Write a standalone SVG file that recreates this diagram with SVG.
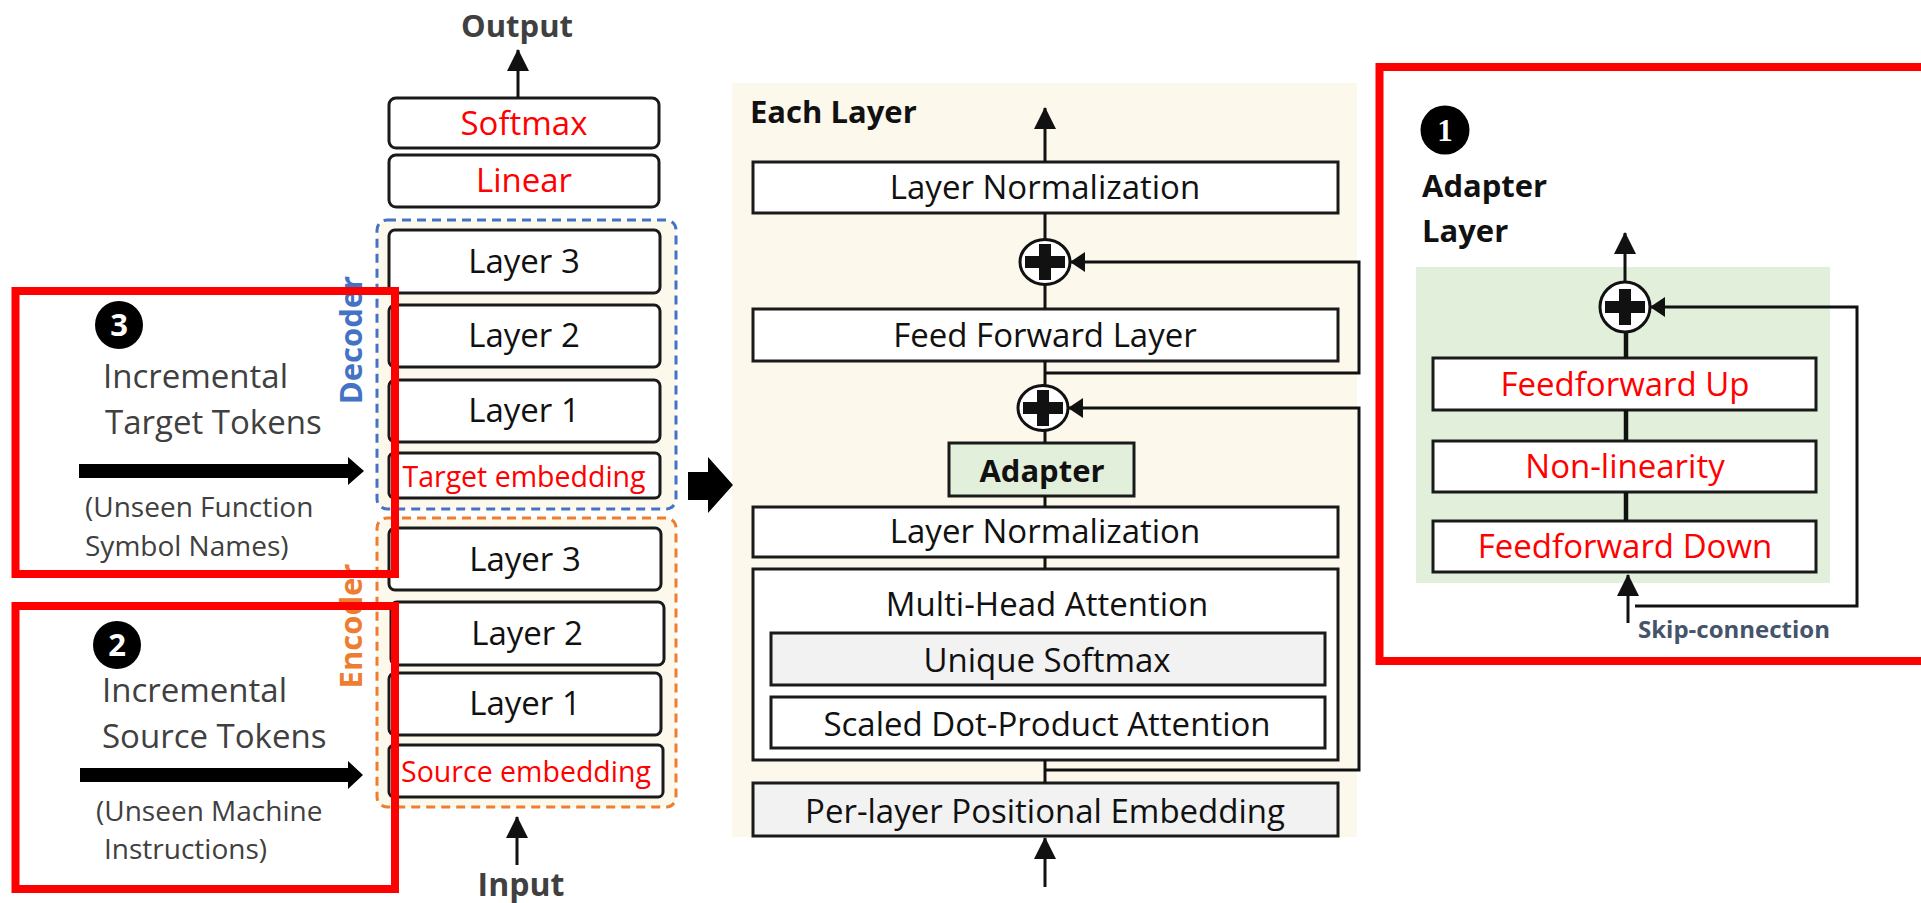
<svg xmlns="http://www.w3.org/2000/svg" width="1921" height="903" viewBox="0 0 1921 903">
  <style>
    text { font-family: "Open Sans", "Liberation Sans", sans-serif; }
    .box { fill: #ffffff; stroke: #1a1a1a; stroke-width: 3; }
    .shade { fill: #f2f2f2; }
    .green { fill: #e2efda; }
    .lbl { font-size: 33px; fill: #111111; text-anchor: middle; }
    .emb { font-size: 28.5px; text-anchor: middle; }
    .red { fill: #ff0000; }
    .bold { font-weight: 700; }
    .head { font-size: 31px; font-weight: 700; fill: #111111; }
    .desc { font-size: 33px; fill: #404040; }
    .note { font-size: 28px; fill: #404040; }
    .wire { fill: none; stroke: #111111; stroke-width: 3; }
    .thick { stroke-width: 4.5; }
    .hl { fill: none; stroke: #ff0000; stroke-width: 8; }
    .dash-blue { fill: #fdf8ec; stroke: #4472c4; stroke-width: 3; stroke-dasharray: 9 6; }
    .dash-orange { fill: #fdf8ec; stroke: #ed7d31; stroke-width: 3; stroke-dasharray: 9 6; }
    .badge { fill: #000000; }
    .badge-num { font-size: 31px; font-weight: 700; fill: #ffffff; text-anchor: middle; }
    .plus-ring { fill: #ffffff; stroke: #111111; stroke-width: 3; }
  </style>
  <defs>
    <marker id="ah" markerUnits="userSpaceOnUse" markerWidth="22" markerHeight="22" viewBox="0 0 22 22" refX="21" refY="11" orient="auto">
      <path d="M0,0 L22,11 L0,22 Z" fill="#111111"/>
    </marker>
    <marker id="ahs" markerUnits="userSpaceOnUse" markerWidth="15" markerHeight="20" viewBox="0 0 15 20" refX="14" refY="10" orient="auto">
      <path d="M0,0 L15,10 L0,20 Z" fill="#111111"/>
    </marker>
    <path id="cross" d="M-20,-6 H-6 V-18 H6 V-6 H20 V6 H6 V18 H-6 V6 H-20 Z" fill="#111111"/>
  </defs>

  <!-- ===== Transformer stack ===== -->
  <g id="output-label"><text x="517" y="37" class="head" fill="#404040" text-anchor="middle" style="fill:#404040">Output</text></g>
  <g id="softmax"><rect class="box" x="389" y="98" width="270" height="50" rx="7"/><text class="lbl red" x="524" y="135">Softmax</text></g>
  <g id="linear"><rect class="box" x="389" y="155" width="270" height="52" rx="7"/><text class="lbl red" x="524" y="192">Linear</text></g>

  <g id="decoder">
    <rect class="dash-blue" x="377" y="220" width="299" height="289" rx="10"/>
    <text x="362" y="340" transform="rotate(-90 362 340)" class="head" style="fill:#4472c4" text-anchor="middle">Decoder</text>
  </g>
  <g id="dec-layer3"><rect class="box" x="389" y="230" width="271" height="63" rx="6"/><text class="lbl" x="524" y="273">Layer 3</text></g>
  <g id="dec-layer2"><rect class="box" x="389" y="305" width="271" height="62" rx="6"/><text class="lbl" x="524" y="347">Layer 2</text></g>
  <g id="dec-layer1"><rect class="box" x="389" y="380" width="271" height="62" rx="6"/><text class="lbl" x="524" y="422">Layer 1</text></g>
  <g id="target-embedding"><rect class="box" x="389" y="453" width="271" height="45" rx="5"/><text class="emb red" x="524" y="487">Target embedding</text></g>

  <g id="encoder">
    <rect class="dash-orange" x="377" y="518" width="299" height="289" rx="10"/>
    <text x="362" y="626" transform="rotate(-90 362 626)" class="head" style="fill:#ed7d31" text-anchor="middle">Encoder</text>
  </g>
  <g id="enc-layer3"><rect class="box" x="389" y="528" width="272" height="62" rx="6"/><text class="lbl" x="525" y="571">Layer 3</text></g>
  <g id="enc-layer2"><rect class="box" x="391" y="602" width="273" height="63" rx="6"/><text class="lbl" x="527" y="645">Layer 2</text></g>
  <g id="enc-layer1"><rect class="box" x="389" y="673" width="272" height="62" rx="6"/><text class="lbl" x="525" y="715">Layer 1</text></g>
  <g id="source-embedding"><rect class="box" x="389" y="745" width="274" height="52" rx="5"/><text class="emb red" x="526" y="782">Source embedding</text></g>
  <g id="input-label"><text x="521" y="896" class="head" style="fill:#404040;font-size:32px" text-anchor="middle">Input</text></g>

  <!-- ===== Each layer (detail) ===== -->
  <g id="each-layer">
    <rect x="732" y="83" width="625" height="754" fill="#fdf8ec"/>
    <text x="750" y="123" class="head">Each Layer</text>
  </g>
  <g id="layernorm-top"><rect class="box" x="753" y="162" width="585" height="51"/><text class="lbl" x="1045" y="199">Layer Normalization</text></g>
  <g id="add-ffn"><ellipse class="plus-ring" cx="1045" cy="262" rx="25" ry="22.5"/><use href="#cross" x="1045" y="262"/></g>
  <g id="feed-forward"><rect class="box" x="753" y="309" width="585" height="52"/><text class="lbl" x="1045" y="347">Feed Forward Layer</text></g>
  <g id="add-attn"><ellipse class="plus-ring" cx="1043" cy="408" rx="25" ry="22.5"/><use href="#cross" x="1043" y="408"/></g>
  <g id="adapter"><rect class="box green" x="949" y="443" width="185" height="53"/><text class="head" x="1042" y="482" text-anchor="middle">Adapter</text></g>
  <g id="layernorm-mid"><rect class="box" x="753" y="507" width="585" height="50"/><text class="lbl" x="1045" y="543">Layer Normalization</text></g>
  <g id="multi-head-attention">
    <rect class="box" x="753" y="569" width="585" height="191"/>
    <text class="lbl" x="1047" y="616">Multi-Head Attention</text>
    <rect class="box shade" x="771" y="633" width="554" height="52"/>
    <text class="lbl" x="1047" y="672">Unique Softmax</text>
    <rect class="box" x="771" y="697" width="554" height="51"/>
    <text class="lbl" x="1047" y="736">Scaled Dot-Product Attention</text>
  </g>
  <g id="positional-embedding"><rect class="box shade" x="753" y="783" width="585" height="53"/><text class="lbl" x="1045" y="823">Per-layer Positional Embedding</text></g>

  <!-- ===== Adapter layer (detail) ===== -->
  <g id="adapter-layer">
    <rect class="green" x="1416" y="267" width="414" height="316"/>
    <circle class="badge" cx="1445" cy="130" r="24.5"/>
    <text x="1445" y="141" style="font-family:'Liberation Serif', serif; font-size:31px; font-weight:700; fill:#ffffff" text-anchor="middle">1</text>
    <text x="1422" y="197" class="head">Adapter</text>
    <text x="1422" y="242" class="head">Layer</text>
  </g>
  <g id="add-adapter"><circle class="plus-ring" cx="1625" cy="307" r="25"/><use href="#cross" x="1625" y="307"/></g>
  <g id="ff-up"><rect class="box" x="1433" y="358" width="383" height="52"/><text class="lbl red" x="1625" y="396">Feedforward Up</text></g>
  <g id="non-linearity"><rect class="box" x="1433" y="441" width="383" height="51"/><text class="lbl red" x="1625" y="478">Non-linearity</text></g>
  <g id="ff-down"><rect class="box" x="1433" y="521" width="383" height="51"/><text class="lbl red" x="1625" y="558">Feedforward Down</text></g>
  <g id="skip-label"><text x="1638" y="638" class="bold" font-size="24" fill="#44546a">Skip-connection</text></g>

  <!-- ===== Incremental token notes ===== -->
  <g id="target-tokens">
    <circle class="badge" cx="119" cy="325" r="24"/>
    <text class="badge-num" x="119" y="336">3</text>
    <text class="desc" x="103" y="388">Incremental</text>
    <text class="desc" x="105" y="434">Target Tokens</text>
    <polygon points="79,464 348,464 348,457 364,471 348,485 348,478 79,478" fill="#000000"/>
    <text class="note" x="85" y="517">(Unseen Function</text>
    <text class="note" x="85" y="556">Symbol Names)</text>
  </g>
  <g id="source-tokens">
    <circle class="badge" cx="117" cy="645" r="24"/>
    <text class="badge-num" x="117" y="656">2</text>
    <text class="desc" x="102" y="702">Incremental</text>
    <text class="desc" x="102" y="748">Source Tokens</text>
    <polygon points="80,768 348,768 348,761 363,775 348,789 348,782 80,782" fill="#000000"/>
    <text class="note" x="96" y="821">(Unseen Machine</text>
    <text class="note" x="104" y="859">Instructions)</text>
  </g>

  <!-- ===== Connectors ===== -->
  <g id="connectors">
    <line class="wire" x1="518" y1="98" x2="518" y2="50" marker-end="url(#ah)"/>
    <line class="wire" x1="517" y1="865" x2="517" y2="817" marker-end="url(#ah)"/>
    <polygon points="688,472 708,472 708,457 733,485 708,513 708,500 688,500" fill="#000000"/>

    <line class="wire" x1="1045" y1="162" x2="1045" y2="108" marker-end="url(#ah)"/>
    <line class="wire" x1="1045" y1="213" x2="1045" y2="240"/>
    <line class="wire" x1="1045" y1="284" x2="1045" y2="309"/>
    <line class="wire" x1="1045" y1="361" x2="1045" y2="386"/>
    <line class="wire" x1="1045" y1="430" x2="1045" y2="443"/>
    <line class="wire" x1="1045" y1="496" x2="1045" y2="507"/>
    <line class="wire" x1="1045" y1="557" x2="1045" y2="569"/>
    <line class="wire" x1="1045" y1="760" x2="1045" y2="783"/>
    <line class="wire" x1="1045" y1="887" x2="1045" y2="838" marker-end="url(#ah)"/>
    <polyline class="wire" points="1045,373 1359,373 1359,262 1071,262" marker-end="url(#ahs)"/>
    <polyline class="wire" points="1045,770 1359,770 1359,408 1069,408" marker-end="url(#ahs)"/>

    <line class="wire" x1="1625" y1="282" x2="1625" y2="233" marker-end="url(#ah)"/>
    <line class="wire thick" x1="1626" y1="332" x2="1626" y2="358"/>
    <line class="wire thick" x1="1626" y1="410" x2="1626" y2="441"/>
    <line class="wire thick" x1="1626" y1="492" x2="1626" y2="521"/>
    <line class="wire" x1="1628" y1="623" x2="1628" y2="575" marker-end="url(#ah)"/>
    <polyline class="wire" points="1635,606 1857,606 1857,307 1651,307" marker-end="url(#ahs)"/>
  </g>

  <!-- ===== Highlight frames ===== -->
  <g id="highlights">
    <rect class="hl" x="15.5" y="291" width="379.5" height="283"/>
    <rect class="hl" x="15.5" y="606" width="379.5" height="283"/>
    <rect class="hl" x="1379.5" y="67" width="550" height="594"/>
  </g>
</svg>
